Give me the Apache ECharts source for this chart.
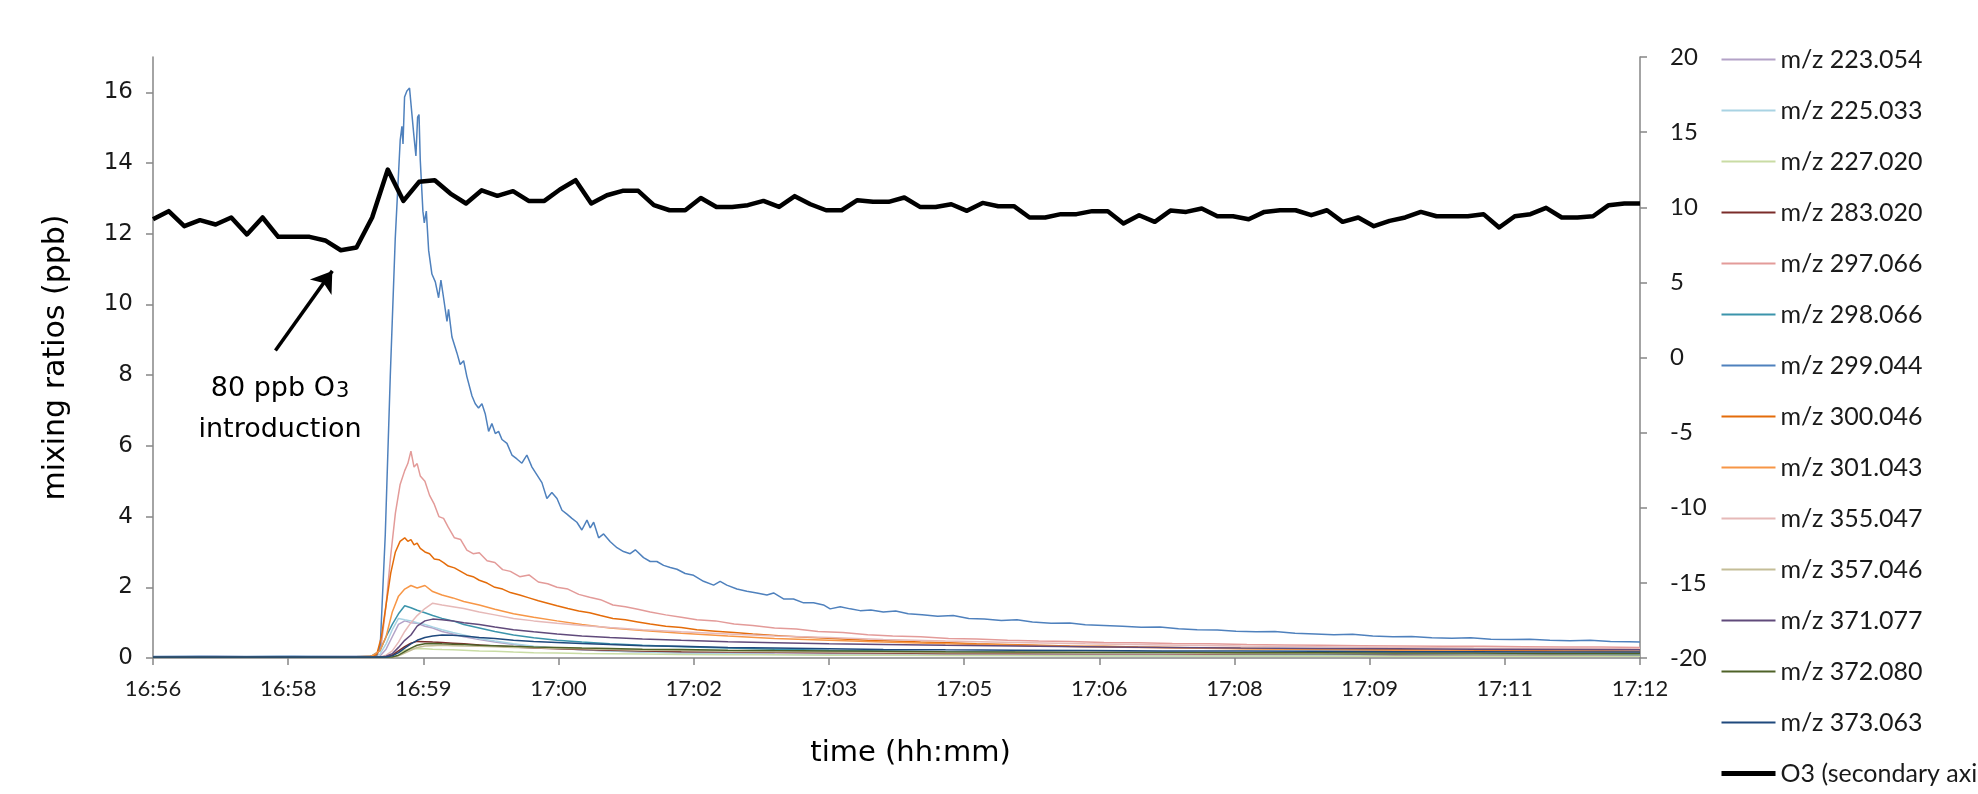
<!DOCTYPE html>
<html><head><meta charset="utf-8">
<script src="https://cdn.jsdelivr.net/npm/echarts@6/dist/echarts.min.js"></script>
<style>html,body{margin:0;padding:0;background:#fff}#c{width:1978px;height:794px}</style>
</head><body><div id="c"></div>
<script>
// ---- x axis: seconds since the 16:56 tick, one labelled tick every 87 s ----
const TICK_SECONDS = 87;
const TICK_LABELS = ['16:56','16:58','16:59','17:00','17:02','17:03','17:05','17:06','17:08','17:09','17:11','17:12'];

// ---- shared sampling times (s) for the smaller m/z traces ----
const T_MINOR = [0,40,80,120,140,146,150,154,158,162,166,170,175,180,186,193,200,210,220,232,245,260,276,294,315,340,370,400,435,470,510,555,600,650,700,750,800,850,900,957];

const MZ_223_054 = [0.03,0.04,0.03,0.04,0.04,0.05,0.25,0.6,0.95,1.05,1.0,0.98,0.9,0.85,0.75,0.68,0.6,0.52,0.45,0.38,0.32,0.27,0.23,0.2,0.17,0.15,0.13,0.12,0.11,0.1,0.09,0.09,0.08,0.08,0.07,0.07,0.07,0.06,0.06,0.06];
const MZ_225_033 = [0.03,0.03,0.04,0.03,0.04,0.1,0.4,0.8,1.12,1.08,1.05,1.0,0.95,0.88,0.8,0.72,0.65,0.55,0.48,0.4,0.33,0.28,0.23,0.2,0.17,0.14,0.12,0.1,0.09,0.08,0.08,0.07,0.07,0.06,0.06,0.06,0.05,0.05,0.05,0.05];
const MZ_227_020 = [0.02,0.02,0.02,0.02,0.02,0.02,0.03,0.08,0.15,0.22,0.26,0.27,0.26,0.25,0.24,0.23,0.22,0.2,0.19,0.17,0.15,0.14,0.13,0.12,0.11,0.1,0.09,0.09,0.08,0.08,0.07,0.07,0.06,0.06,0.06,0.05,0.05,0.05,0.05,0.05];
const MZ_283_020 = [0.02,0.02,0.03,0.02,0.02,0.02,0.03,0.08,0.2,0.32,0.42,0.47,0.46,0.45,0.44,0.42,0.4,0.37,0.34,0.31,0.28,0.26,0.24,0.22,0.2,0.18,0.17,0.16,0.15,0.14,0.13,0.13,0.12,0.12,0.11,0.11,0.1,0.1,0.1,0.1];
const MZ_298_066 = [0.03,0.03,0.03,0.03,0.04,0.2,0.6,0.95,1.25,1.48,1.42,1.35,1.28,1.2,1.12,1.05,0.95,0.85,0.75,0.65,0.57,0.5,0.45,0.4,0.36,0.32,0.28,0.25,0.22,0.2,0.18,0.16,0.15,0.14,0.13,0.12,0.12,0.11,0.11,0.1];
const MZ_301_043 = [0.02,0.02,0.03,0.02,0.04,0.2,0.6,1.3,1.75,1.95,2.05,1.98,2.05,1.88,1.78,1.7,1.6,1.5,1.38,1.25,1.15,1.05,0.95,0.85,0.78,0.7,0.62,0.55,0.5,0.45,0.4,0.36,0.32,0.29,0.26,0.24,0.22,0.2,0.19,0.18];
const MZ_355_047 = [0.02,0.03,0.02,0.03,0.03,0.03,0.08,0.2,0.45,0.75,1.0,1.2,1.4,1.55,1.5,1.45,1.4,1.3,1.22,1.12,1.05,0.98,0.92,0.86,0.8,0.74,0.68,0.62,0.58,0.52,0.48,0.44,0.4,0.37,0.34,0.32,0.3,0.28,0.27,0.26];
const MZ_357_046 = [0.02,0.02,0.02,0.02,0.02,0.02,0.02,0.02,0.06,0.14,0.22,0.3,0.34,0.35,0.36,0.35,0.34,0.33,0.32,0.3,0.29,0.27,0.26,0.24,0.22,0.21,0.19,0.18,0.17,0.16,0.15,0.15,0.14,0.14,0.13,0.13,0.13,0.12,0.12,0.12];
const MZ_371_077 = [0.02,0.02,0.03,0.02,0.02,0.02,0.05,0.12,0.3,0.5,0.65,0.9,1.05,1.1,1.08,1.05,1.0,0.95,0.88,0.8,0.74,0.68,0.62,0.58,0.54,0.5,0.46,0.43,0.4,0.38,0.36,0.34,0.32,0.3,0.28,0.27,0.26,0.25,0.24,0.23];
const MZ_372_080 = [0.02,0.02,0.02,0.02,0.02,0.02,0.02,0.03,0.08,0.18,0.28,0.36,0.4,0.41,0.4,0.39,0.38,0.36,0.35,0.33,0.31,0.3,0.28,0.27,0.25,0.24,0.22,0.21,0.2,0.19,0.18,0.17,0.16,0.16,0.15,0.15,0.14,0.14,0.13,0.13];
const MZ_373_063 = [0.03,0.03,0.03,0.03,0.03,0.03,0.03,0.06,0.15,0.28,0.4,0.5,0.58,0.62,0.65,0.64,0.62,0.58,0.55,0.5,0.47,0.44,0.41,0.38,0.35,0.33,0.3,0.28,0.26,0.24,0.23,0.22,0.21,0.2,0.2,0.19,0.18,0.18,0.17,0.17];

// ---- denser sampling times (s) for the two larger secondary traces ----
const T_MID = [0,60,120,140,144,147,150,153,156,159,162,164,166,168,170,172,175,178,181,184,187,190,194,198,202,206,210,215,220,225,230,236,242,248,254,260,267,274,281,288,296,304,312,320,330,340,350,362,374,386,400,414,428,444,460,476,494,512,530,550,570,590,612,634,656,680,704,728,752,778,804,830,856,882,908,932,957];
const MZ_297_066 = [0.03,0.03,0.03,0.04,0.06,0.4,1.5,2.9,4.1,4.9,
  5.3,5.5,5.85,5.4,5.5,5.15,5.0,4.6,4.35,4.0,
  3.95,3.7,3.4,3.35,3.05,2.95,2.98,2.75,2.7,2.5,
  2.45,2.3,2.35,2.15,2.1,2.0,1.95,1.8,1.72,1.65,
  1.5,1.45,1.38,1.3,1.22,1.15,1.08,1.05,0.96,0.92,
  0.85,0.82,0.75,0.72,0.66,0.62,0.6,0.55,0.54,0.5,
  0.48,0.47,0.44,0.43,0.41,0.4,0.38,0.37,0.36,0.35,
  0.34,0.33,0.33,0.32,0.31,0.31,0.3];
const MZ_300_046 = [0.02,0.03,0.03,0.04,0.1,0.6,1.5,2.4,3.0,3.3,
  3.4,3.3,3.35,3.2,3.25,3.1,3.0,2.95,2.8,2.78,
  2.7,2.6,2.55,2.45,2.35,2.3,2.2,2.12,2.0,1.95,
  1.85,1.78,1.7,1.62,1.55,1.48,1.4,1.33,1.28,1.2,
  1.12,1.08,1.02,0.96,0.9,0.86,0.8,0.76,0.72,0.68,
  0.64,0.6,0.57,0.54,0.5,0.48,0.45,0.43,0.4,0.38,
  0.36,0.34,0.33,0.31,0.3,0.28,0.27,0.26,0.25,0.24,
  0.23,0.22,0.22,0.21,0.2,0.2,0.19];

// ---- m/z 299.044 (the large trace), own sampling times (s) ----
const T_299_044 = [0,30,60,90,120,140,144.1,146.3,149.5,152.7,155.9,159.1,160.2,160.9,161.9,163.4,165.1,166.0,167.7,169.2,170.3,171.2,172.0,173.7,174.6,175.9,177.4,179.5,181.7,183.8,185.3,187.0,189.2,190.2,192.4,195.6,197.7,199.9,202.0,205.3,207.4,209.5,211.7,213.8,216.0,218.1,220.3,222.4,224.6,227.8,231.0,234.2,237.4,240.6,243.9,247.1,250.3,253.5,256.7,260.0,263.2,266.4,269.6,272.8,276.0,279.3,281.4,283.6,286.8,290.0,294.3,298.6,302.8,307.1,310.4,315.7,320.0,324.3,328.6,332.9,337.2,342.5,347.9,354.3,360.8,365.0,369.3,375.8,382.2,388.6,395.1,399.4,405.8,412.2,418.7,425.1,431.5,435.8,442.3,448.7,455.1,462,470,478,486,495,505,515,525,535,546,556,566,578,590,600,612,624,636,648,660,672,685,697,710,722,735,748,760,772,785,798,810,823,836,848,861,874,886,899,912,925,938,950,957];
const MZ_299_044 = [0.04,0.05,0.04,0.05,0.04,0.05,0.08,0.39,3.5,7.96,11.86,14.65,15.04,14.54,15.87,16.04,16.12,16.07,14.87,14.2,15.3,15.37,14.09,12.64,12.31,12.64,11.53,10.86,10.64,10.19,10.69,10.19,9.52,9.86,9.08,8.63,8.30,8.41,7.96,7.41,7.19,7.07,7.19,6.91,6.41,6.63,6.35,6.41,6.18,6.07,5.74,5.63,5.51,5.74,5.40,5.18,4.96,4.51,4.68,4.51,4.18,4.07,3.95,3.84,3.62,3.90,3.68,3.84,3.40,3.51,3.29,3.12,3.01,2.95,3.06,2.84,2.73,2.73,2.62,2.56,2.51,2.39,2.34,2.17,2.06,2.17,2.06,1.95,1.89,1.84,1.78,1.84,1.67,1.67,1.56,1.56,1.50,1.39,1.45,1.39,1.34,1.36,1.30,1.33,1.25,1.22,1.18,1.2,1.12,1.1,1.06,1.08,1.02,0.98,0.99,0.94,0.92,0.9,0.87,0.88,0.83,0.8,0.79,0.76,0.74,0.75,0.7,0.68,0.66,0.67,0.62,0.6,0.61,0.57,0.56,0.57,0.53,0.52,0.53,0.5,0.49,0.5,0.47,0.46,0.45];

// ---- O3 (secondary axis), one reading every ~10 s ----
const O3_STEP = 957 / 95;
const O3 = [9.2,9.74,8.74,9.14,8.85,9.32,8.19,9.32,8.03,8.03,8.03,7.79,7.14,7.32,9.32,12.51,10.42,11.69,11.80,10.91,10.25,11.13,10.76,11.07,10.42,10.42,11.18,11.80,10.25,10.80,11.09,11.09,10.14,
 9.80,9.80,10.62,10.02,10.02,10.14,10.42,10.02,10.74,10.20,9.80,9.80,10.47,10.36,10.36,10.65,10.02,10.02,10.20,9.76,10.29,10.07,10.07,9.32,9.32,9.54,9.54,9.74,9.74,8.92,9.47,9.03,9.78,
 9.69,9.92,9.40,9.40,9.20,9.69,9.80,9.80,9.47,9.80,9.03,9.32,8.74,9.09,9.32,9.69,9.40,9.40,9.40,9.54,8.65,9.40,9.54,9.96,9.32,9.32,9.40,10.14,10.25,10.25];

// ---- annotation arrow (data coordinates: seconds, ppb) ----
const ARROW_FROM = [78.8, 8.70];
const ARROW_TO = [115.4, 10.95];

const TRACES = [
  ['m/z 223.054', T_MINOR, MZ_223_054, '#b3a2c7'],
  ['m/z 225.033', T_MINOR, MZ_225_033, '#a9d3e3'],
  ['m/z 227.020', T_MINOR, MZ_227_020, '#c9dca4'],
  ['m/z 283.020', T_MINOR, MZ_283_020, '#7b2c2a'],
  ['m/z 297.066', T_MID, MZ_297_066, '#e39b99'],
  ['m/z 298.066', T_MINOR, MZ_298_066, '#3b94ab'],
  ['m/z 299.044', T_299_044, MZ_299_044, '#4f81bd'],
  ['m/z 300.046', T_MID, MZ_300_046, '#e46c0a'],
  ['m/z 301.043', T_MINOR, MZ_301_043, '#f79646'],
  ['m/z 355.047', T_MINOR, MZ_355_047, '#e6b9b8'],
  ['m/z 357.046', T_MINOR, MZ_357_046, '#c4bd97'],
  ['m/z 371.077', T_MINOR, MZ_371_077, '#604a7b'],
  ['m/z 372.080', T_MINOR, MZ_372_080, '#4f6228'],
  ['m/z 373.063', T_MINOR, MZ_373_063, '#1f497d']
];
const O3_NAME = 'O3 (secondary axis)';

const series = TRACES.map(([name, times, vals, color]) => {
  const s = {
    name, type: 'line', data: times.map((t, i) => [t, vals[i]]),
    symbol: 'none', showSymbol: false, yAxisIndex: 0,
    lineStyle: { width: 1.5, color }, itemStyle: { color }, animation: false, silent: true
  };
  if (name === 'm/z 299.044') {
    s.markLine = {
      silent: true, animation: false, symbol: ['none', 'arrow'], symbolSize: 20,
      label: { show: false },
      lineStyle: { color: '#000', width: 3.5, type: 'solid' },
      emphasis: { disabled: true },
      data: [[{ coord: ARROW_FROM }, { coord: ARROW_TO }]]
    };
  }
  return s;
});
series.push({
  name: O3_NAME, type: 'line', yAxisIndex: 1, symbol: 'none', showSymbol: false,
  data: O3.map((v, i) => [i * O3_STEP, v]),
  lineStyle: { width: 4.5, color: '#000', join: 'round' }, itemStyle: { color: '#000' },
  animation: false, silent: true, z: 5
});

const legendData = TRACES.map(([name, , , color]) => ({ name, lineStyle: { width: 2, color } }))
  .concat([{ name: O3_NAME, lineStyle: { width: 5, color: '#000' } }]);

const chart = echarts.init(document.getElementById('c'), null, { renderer: 'canvas' });
chart.setOption({
  animation: false,
  backgroundColor: '#fff',
  grid: { left: 153, right: 338, top: 57, bottom: 136, containLabel: false },
  legend: {
    orient: 'vertical', left: 1714, top: 42, height: 760, itemWidth: 54, itemHeight: 25, itemGap: 26,
    itemStyle: { opacity: 0 },
    data: legendData,
    textStyle: { fontFamily: 'Lato', fontSize: 25, color: '#1a1a1a', lineHeight: 25 },
    selectedMode: false
  },
  xAxis: {
    type: 'value', min: 0, max: 11 * TICK_SECONDS, interval: TICK_SECONDS,
    name: 'time (hh:mm)', nameLocation: 'middle', nameGap: 81,
    nameTextStyle: { fontFamily: 'DejaVu Sans', fontSize: 29, color: '#000', padding: [0, 0, 0, 28] },
    axisLine: { lineStyle: { color: '#868686', width: 1.5 } },
    axisTick: { length: 7, lineStyle: { color: '#868686', width: 1.5 } },
    axisLabel: { margin: 20, fontFamily: 'Lato', fontSize: 22, color: '#1a1a1a',
      formatter: v => TICK_LABELS[Math.round(v / TICK_SECONDS)] },
    splitLine: { show: false }
  },
  yAxis: [{
    type: 'value', min: 0, max: 17, interval: 2, position: 'left',
    name: 'mixing ratios (ppb)', nameLocation: 'middle', nameGap: 82, nameRotate: 90,
    nameTextStyle: { fontFamily: 'DejaVu Sans', fontSize: 30, color: '#000' },
    axisLine: { show: true, lineStyle: { color: '#868686', width: 1.5 } },
    axisTick: { show: true, length: 7, lineStyle: { color: '#868686', width: 1.5 } },
    axisLabel: { margin: 20, fontFamily: 'DejaVu Sans', fontSize: 23, color: '#1a1a1a', showMaxLabel: false },
    splitLine: { show: false }
  }, {
    type: 'value', min: -20, max: 20, interval: 5, position: 'right',
    axisLine: { show: true, lineStyle: { color: '#868686', width: 1.5 } },
    axisTick: { show: true, length: 7, lineStyle: { color: '#868686', width: 1.5 } },
    axisLabel: { margin: 30, fontFamily: 'Lato', fontSize: 24, color: '#1a1a1a' },
    splitLine: { show: false }
  }],
  graphic: [
    { type: 'text', x: 280, y: 389, silent: true,
      style: { text: '{a|80 ppb O}{b|3}', align: 'center', verticalAlign: 'middle',
        rich: { a: { font: '27px "DejaVu Sans"', fill: '#000' },
                b: { font: '21px "DejaVu Sans"', fill: '#000', verticalAlign: 'bottom', padding: [6, 0, 0, 1] } } } },
    { type: 'text', x: 280, y: 430, silent: true,
      style: { text: 'introduction', font: '27px "DejaVu Sans"', fill: '#000', align: 'center', verticalAlign: 'middle' } }
  ],
  series
});
</script></body></html>
